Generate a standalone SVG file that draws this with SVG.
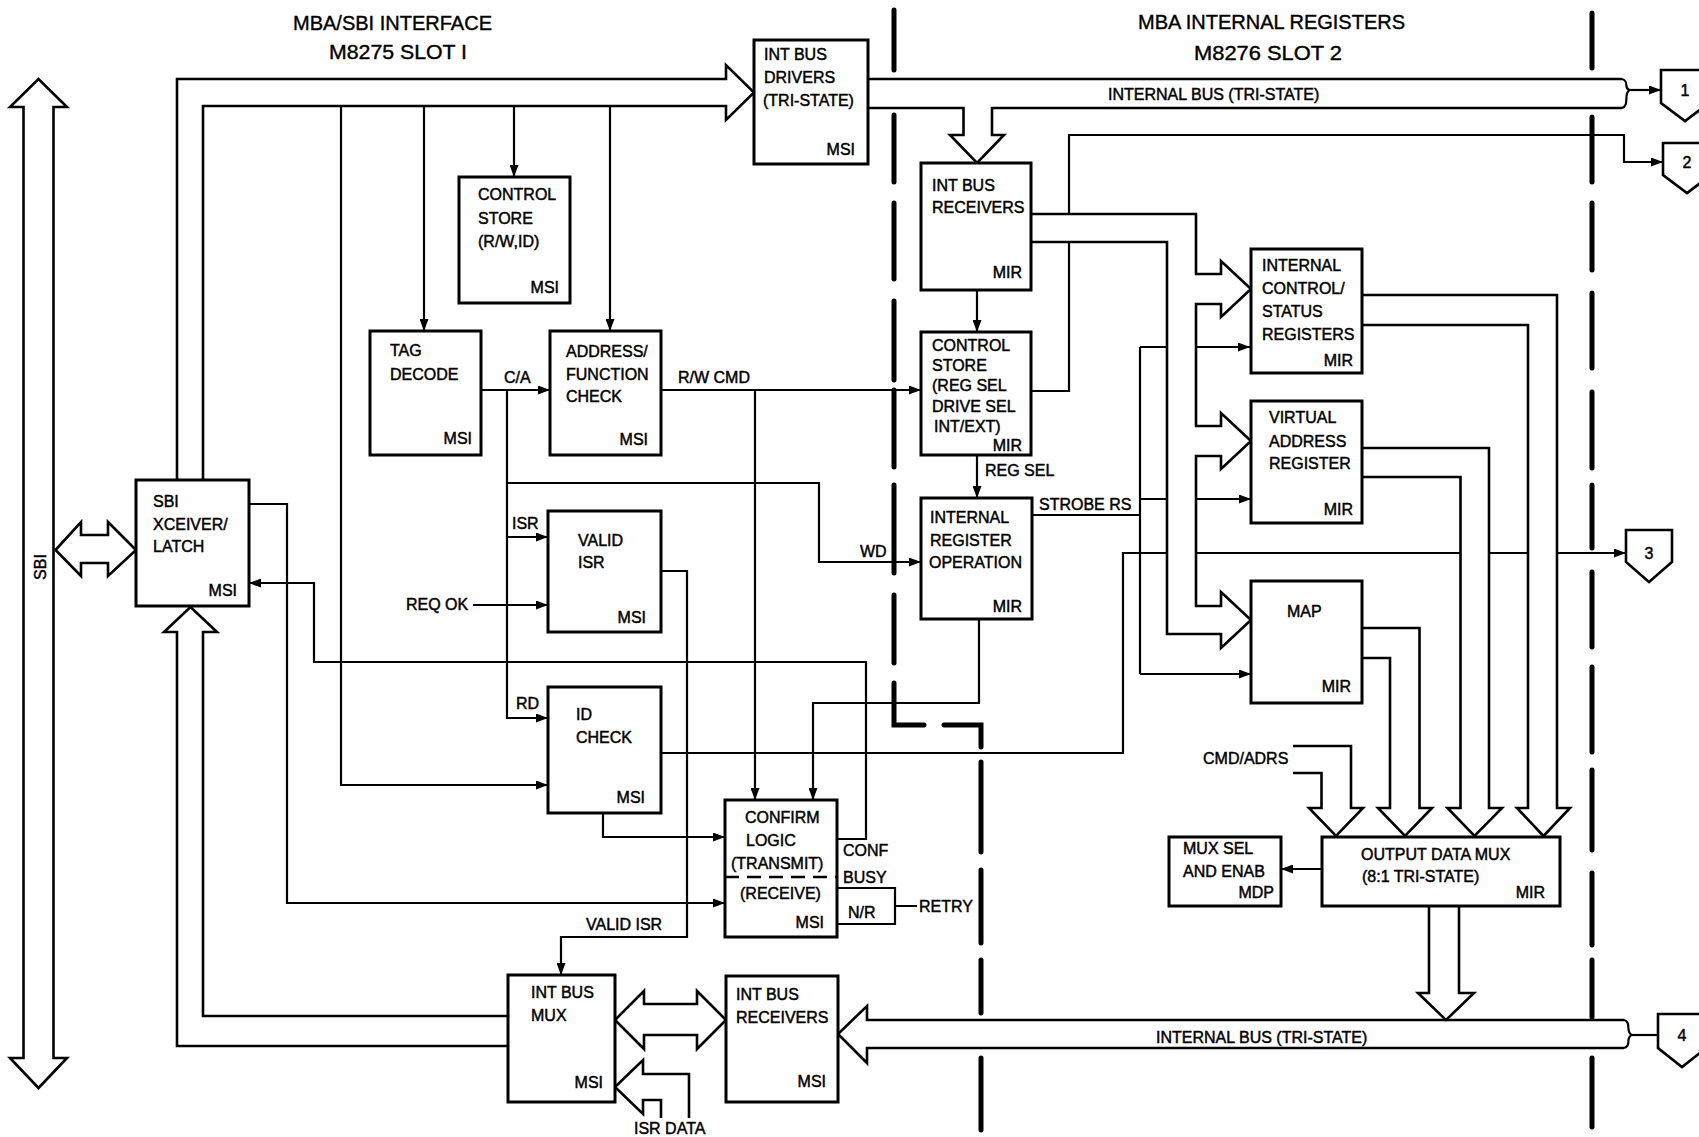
<svg xmlns="http://www.w3.org/2000/svg" width="1699" height="1137" viewBox="0 0 1699 1137">
<style>
.t{font-family:"Liberation Sans",Arial,Helvetica,sans-serif;font-size:16px;fill:#000;stroke:#000;stroke-width:0.45}
.h{font-size:21px;stroke-width:0.4}
.e{text-anchor:end}
.box{fill:#fff;stroke:#000;stroke-width:3}
.w{fill:none;stroke:#000;stroke-width:2.2}
.bus{fill:none;stroke:#000;stroke-width:2.6;stroke-linejoin:miter}
.div{fill:none;stroke:#000;stroke-width:5;stroke-linecap:round}
.pent{fill:#fff;stroke:#000;stroke-width:2.6}
</style>
<defs>
<marker id="ah" viewBox="0 0 12 9" refX="12" refY="4.5" markerWidth="12" markerHeight="9" markerUnits="userSpaceOnUse" orient="auto"><path d="M0,0 L12,4.5 L0,9 z" fill="#000"/></marker>
</defs>
<rect width="1699" height="1137" fill="#fff"/>

<g id="titles">
<text class="t h" x="293" y="30" textLength="199" lengthAdjust="spacingAndGlyphs">MBA/SBI INTERFACE</text>
<text class="t h" x="329" y="59" textLength="138" lengthAdjust="spacingAndGlyphs">M8275  SLOT I</text>
<text class="t h" x="1138" y="29" textLength="267" lengthAdjust="spacingAndGlyphs">MBA INTERNAL REGISTERS</text>
<text class="t h" x="1194" y="60" textLength="148" lengthAdjust="spacingAndGlyphs">M8276  SLOT 2</text>
</g>

<g id="dividers">
<path class="div" d="M894,10V70M894,115V182M894,203V279M894,301V380M894,390V467M894,485V573M894,595V663M894,683V725H924M944,725H981V747M981,762V852M981,870V943M981,960V1013M981,1058V1130"/>
<path class="div" d="M1592,13V68M1592,117V182M1592,203V270M1592,293V368M1592,392V468M1592,485V548M1592,572V647M1592,667V752M1592,770V850M1592,873V945M1592,960V1017M1592,1058V1127"/>
</g>

<g id="connectors">
<path class="bus" d="M23.5,107H10L38.5,79L67,107H53.5V1058H67L38.5,1088L10,1058H23.5Z"/>
<text class="t" transform="rotate(-90 40 567)" x="40" y="573" text-anchor="middle">SBI</text>
<path class="bus" d="M55.5,550L81,522V535H108V522L136,550L108,576V563H81V576Z"/>
<path class="bus" d="M177,480V79H726V65L754,92.5L726,120V106H203V480"/>
<path class="bus" d="M508,1016H203V632H217L190.5,607L164,632H177V1046H508"/>
<path class="bus" d="M868,79H1622M868,108H963.5V135H950L977,163L1004,135H992V108H1622"/>
<path class="w" d="M1622,79C1630,81 1623,89 1630,90C1623,92 1630,106 1622,108"/>
<path class="w" marker-end="url(#ah)" d="M1630,90H1661"/>
<path class="bus" d="M1031,214H1196V274H1221V261L1251,289L1221,317V304H1196V426H1221V413L1251,441L1221,469V456H1196V606H1221V592L1251,620L1221,648V634H1167V242H1031"/>
<path class="bus" d="M1361,295H1557V808H1570L1543.5,836L1517,808H1528V325H1361"/>
<path class="bus" d="M1362,448H1489V808H1502L1474.5,836L1447.5,808H1460.5V477H1362"/>
<path class="bus" d="M1362,628H1419.5V808H1432L1405,836L1378,808H1390V658H1362"/>
<path class="bus" d="M1293,746H1351V808H1363L1336,836L1309,808H1321.5V773H1293"/>
<text class="t" x="1203" y="764">CMD/ADRS</text>
<path class="bus" d="M1429,906V993H1418L1446,1020L1474,993H1459V906"/>
<path class="bus" d="M1624,1020H867V1006L838,1034L867,1063V1048H1624"/>
<path class="w" d="M1624,1020C1632,1022 1625,1033 1632,1035C1625,1037 1632,1046 1624,1048"/>
<path class="w" d="M1632,1035H1658"/>
<text class="t" x="1108" y="100" font-size="17">INTERNAL BUS (TRI-STATE)</text>
<text class="t" x="1156" y="1043" font-size="17">INTERNAL BUS (TRI-STATE)</text>
<path class="bus" d="M615,1020L644,991V1004H697V991L726,1020L697,1049V1035H644V1049Z"/>
<path class="bus" d="M689,1118V1074H643V1060L615,1087L643,1114V1100H661V1118"/>
<text class="t" x="634" y="1134">ISR DATA</text>

<path class="w" marker-end="url(#ah)" d="M341,106V785H548"/>
<path class="w" marker-end="url(#ah)" d="M424,106V331"/>
<path class="w" marker-end="url(#ah)" d="M514,106V177"/>
<path class="w" marker-end="url(#ah)" d="M610,106V331"/>
<path class="w" marker-end="url(#ah)" d="M481,390H550"/>
<text class="t" x="504" y="383">C/A</text>
<path class="w" marker-end="url(#ah)" d="M507,390V718H548"/>
<text class="t" x="516" y="709">RD</text>
<path class="w" marker-end="url(#ah)" d="M507,537H548"/>
<text class="t" x="512" y="529">ISR</text>
<path class="w" marker-end="url(#ah)" d="M507,483H819V562H921"/>
<text class="t" x="860" y="557">WD</text>
<path class="w" marker-end="url(#ah)" d="M473,605H548"/>
<text class="t" x="406" y="610">REQ OK</text>
<path class="w" marker-end="url(#ah)" d="M661,571H687V937H561V975"/>
<text class="t" x="586" y="930">VALID ISR</text>
<path class="w" marker-end="url(#ah)" d="M661,390H921"/>
<text class="t" x="678" y="383">R/W CMD</text>
<path class="w" marker-end="url(#ah)" d="M755,390V800"/>
<path class="w" marker-end="url(#ah)" d="M977,290V332"/>
<path class="w" marker-end="url(#ah)" d="M977,455V498"/>
<text class="t" x="985" y="476">REG SEL</text>
<path class="w" marker-end="url(#ah)" d="M979,619V703H813V800"/>
<path class="w" marker-end="url(#ah)" d="M603,813V837H725"/>
<path class="w" marker-end="url(#ah)" d="M249,504H287V903H725"/>
<path class="w" marker-end="url(#ah)" d="M837,839H866V662H314V583H249"/>
<text class="t" x="843" y="856">CONF</text>
<text class="t" x="843" y="883">BUSY</text>
<path class="w" d="M837,888H895V924H837M895,906H917"/>
<text class="t" x="848" y="918">N/R</text>
<text class="t" x="919" y="912">RETRY</text>
<path class="w" d="M1031,391H1069V242"/>
<path class="w" marker-end="url(#ah)" d="M1069,214V135H1624V162H1663"/>
<path class="w" d="M1032,515H1140M1140,347V674M1140,347H1167M1140,499H1167"/>
<text class="t" x="1039" y="510">STROBE RS</text>
<path class="w" marker-end="url(#ah)" d="M1140,674H1251"/>
<path class="w" marker-end="url(#ah)" d="M1196,347H1250"/>
<path class="w" marker-end="url(#ah)" d="M1196,499H1251"/>
<path class="w" d="M661,753H1123V553H1167M1196,553H1460.5M1489,553H1528"/>
<path class="w" marker-end="url(#ah)" d="M1557,553H1626"/>
<path class="w" marker-end="url(#ah)" d="M1322,869H1281"/>
</g>

<g id="sbi-xceiver">
<rect class="box" x="136" y="480" width="113" height="126"/>
<text class="t" x="153" y="507">SBI</text>
<text class="t" x="153" y="530">XCEIVER/</text>
<text class="t" x="153" y="552">LATCH</text>
<text class="t e" x="237" y="596">MSI</text>
</g>
<g id="control-store-1">
<rect class="box" x="459" y="177" width="111" height="126"/>
<text class="t" x="478" y="200">CONTROL</text>
<text class="t" x="478" y="224">STORE</text>
<text class="t" x="478" y="247">(R/W,ID)</text>
<text class="t e" x="559" y="293">MSI</text>
</g>
<g id="tag-decode">
<rect class="box" x="370" y="331" width="111" height="124"/>
<text class="t" x="390" y="356">TAG</text>
<text class="t" x="390" y="380">DECODE</text>
<text class="t e" x="472" y="444">MSI</text>
</g>
<g id="address-function-check">
<rect class="box" x="550" y="331" width="111" height="124"/>
<text class="t" x="566" y="357">ADDRESS/</text>
<text class="t" x="566" y="380">FUNCTION</text>
<text class="t" x="566" y="402">CHECK</text>
<text class="t e" x="648" y="445">MSI</text>
</g>
<g id="valid-isr">
<rect class="box" x="548" y="511" width="113" height="121"/>
<text class="t" x="578" y="546">VALID</text>
<text class="t" x="578" y="568">ISR</text>
<text class="t e" x="646" y="623">MSI</text>
</g>
<g id="id-check">
<rect class="box" x="548" y="687" width="113" height="126"/>
<text class="t" x="576" y="720">ID</text>
<text class="t" x="576" y="743">CHECK</text>
<text class="t e" x="645" y="803">MSI</text>
</g>
<g id="int-bus-drivers">
<rect class="box" x="754" y="40" width="114" height="124"/>
<text class="t" x="764" y="60">INT BUS</text>
<text class="t" x="764" y="83">DRIVERS</text>
<text class="t" x="763" y="106">(TRI-STATE)</text>
<text class="t e" x="855" y="155">MSI</text>
</g>
<g id="int-bus-receivers-top">
<rect class="box" x="921" y="163" width="110" height="127"/>
<text class="t" x="932" y="191">INT BUS</text>
<text class="t" x="932" y="213">RECEIVERS</text>
<text class="t e" x="1022" y="278">MIR</text>
</g>
<g id="control-store-2">
<rect class="box" x="921" y="332" width="110" height="123"/>
<text class="t" x="932" y="351">CONTROL</text>
<text class="t" x="932" y="371">STORE</text>
<text class="t" x="932" y="391">(REG SEL</text>
<text class="t" x="932" y="412">DRIVE SEL</text>
<text class="t" x="934" y="432">INT/EXT)</text>
<text class="t e" x="1022" y="451">MIR</text>
</g>
<g id="internal-register-operation">
<rect class="box" x="921" y="498" width="111" height="121"/>
<text class="t" x="930" y="523">INTERNAL</text>
<text class="t" x="930" y="546">REGISTER</text>
<text class="t" x="929" y="568">OPERATION</text>
<text class="t e" x="1022" y="612">MIR</text>
</g>
<g id="internal-control-status">
<rect class="box" x="1251" y="249" width="111" height="124"/>
<text class="t" x="1262" y="271">INTERNAL</text>
<text class="t" x="1262" y="294">CONTROL/</text>
<text class="t" x="1262" y="317">STATUS</text>
<text class="t" x="1262" y="340">REGISTERS</text>
<text class="t e" x="1353" y="366">MIR</text>
</g>
<g id="virtual-address-register">
<rect class="box" x="1251" y="401" width="111" height="122"/>
<text class="t" x="1269" y="423">VIRTUAL</text>
<text class="t" x="1269" y="447">ADDRESS</text>
<text class="t" x="1269" y="469">REGISTER</text>
<text class="t e" x="1353" y="515">MIR</text>
</g>
<g id="map">
<rect class="box" x="1251" y="581" width="111" height="122"/>
<text class="t" x="1287" y="617">MAP</text>
<text class="t e" x="1351" y="692">MIR</text>
</g>
<g id="output-data-mux">
<rect class="box" x="1322" y="837" width="238" height="69"/>
<text class="t" x="1361" y="860">OUTPUT DATA MUX</text>
<text class="t" x="1362" y="882">(8:1 TRI-STATE)</text>
<text class="t e" x="1545" y="898">MIR</text>
</g>
<g id="mux-sel-enab">
<rect class="box" x="1169" y="837" width="112" height="69"/>
<text class="t" x="1183" y="854">MUX SEL</text>
<text class="t" x="1183" y="877">AND ENAB</text>
<text class="t e" x="1274" y="898">MDP</text>
</g>
<g id="confirm-logic">
<rect class="box" x="725" y="800" width="112" height="137"/>
<path d="M725,877H837" stroke="#000" stroke-width="2.6" stroke-dasharray="14 8"/>
<text class="t" x="745" y="823">CONFIRM</text>
<text class="t" x="746" y="846">LOGIC</text>
<text class="t" x="731" y="869">(TRANSMIT)</text>
<text class="t" x="740" y="899">(RECEIVE)</text>
<text class="t e" x="824" y="928">MSI</text>
</g>
<g id="int-bus-mux">
<rect class="box" x="508" y="975" width="107" height="127"/>
<text class="t" x="531" y="998">INT BUS</text>
<text class="t" x="531" y="1021">MUX</text>
<text class="t e" x="603" y="1088">MSI</text>
</g>
<g id="int-bus-receivers-bottom">
<rect class="box" x="726" y="976" width="112" height="126"/>
<text class="t" x="736" y="1000">INT BUS</text>
<text class="t" x="736" y="1023">RECEIVERS</text>
<text class="t e" x="826" y="1087">MSI</text>
</g>
<g id="off-page-1">
<path class="pent" d="M1661,70H1709V103L1685,121L1661,103Z"/>
<text class="t" x="1685" y="96" text-anchor="middle">1</text>
</g>
<g id="off-page-2">
<path class="pent" d="M1663,143H1711V175L1687,193L1663,175Z"/>
<text class="t" x="1687" y="168" text-anchor="middle">2</text>
</g>
<g id="off-page-3">
<path class="pent" d="M1626,530H1672V562L1649,582L1626,562Z"/>
<text class="t" x="1649" y="559" text-anchor="middle">3</text>
</g>
<g id="off-page-4">
<path class="pent" d="M1658,1014H1706V1048L1682,1067L1658,1048Z"/>
<text class="t" x="1682" y="1041" text-anchor="middle">4</text>
</g>
</svg>
